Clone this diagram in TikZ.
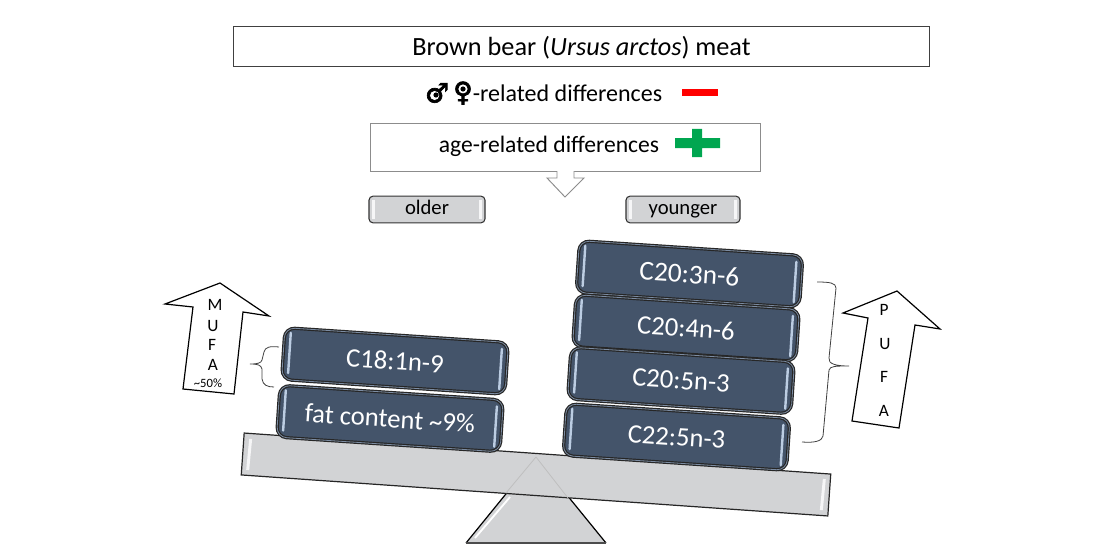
\documentclass[tikz,border=0pt]{standalone}
\usepackage{fontspec}
\usepackage{tikz}
\usetikzlibrary{calc}
\setmainfont{Carlito}
\newfontface\symbfont[FakeBold=2.5]{DejaVu Sans}
\definecolor{barblue}{HTML}{44546A}
\definecolor{barrim}{HTML}{7C8CA2}
\definecolor{beamgray}{HTML}{D2D3D5}
\definecolor{shinegray}{HTML}{F6F6F7}
\definecolor{shineblue}{HTML}{BCCDE2}
\definecolor{plusgreen}{HTML}{00A650}
\tikzset{
  bar/.style={draw=black!85, line width=.9pt, double=barrim, double distance=.6pt, fill=barblue, rounded corners=7.5pt,
    minimum width=168pt, minimum height=39pt, inner sep=0pt, text=white,
    font=\fontsize{20}{24}\selectfont, rotate=-3.8},
  tag/.style={draw=black!80, line width=.8pt, fill=beamgray, rounded corners=3pt,
    minimum height=20pt, inner sep=0pt, text height=8.2pt, text depth=0pt, font=\fontsize{15.5}{18}\selectfont},
  letter/.style={inner sep=0pt, font=\fontsize{13}{15}\selectfont},
  bigarrow/.style={draw=black, line width=.9pt, fill=white, line join=miter},
  shine/.style={draw=shineblue, line width=1.8pt, line cap=round},
  curly/.style={draw=black!75, line width=.6pt}
}
\begin{document}
\begin{tikzpicture}[x=.75pt, y=-.75pt]
\useasboundingbox (0,0) rectangle (1100,560);

% header
\node (title) [draw=black!75, line width=.7pt, minimum width=522.5pt, minimum height=30.5pt, inner sep=0pt,
  text height=14pt, text depth=0pt, font=\fontsize{19.7}{22}\selectfont] at (581.5,46.5) {Brown bear (\textit{Ursus arctos}) meat};
\node (sexline) [inner sep=0pt, font=\fontsize{18}{20}\selectfont] at (567.5,93) {-related differences};
\node (male) [inner sep=0pt, font=\symbfont\fontsize{20}{20}\selectfont] at (437,93) {♂};
\node (female) [inner sep=0pt, font=\symbfont\fontsize{20}{20}\selectfont] at (463,93) {♀};
\fill (436,95) circle (2.6) (463,89) circle (2.6);
\fill[red] (682,89) rectangle (718,96);

\node (agebox) [draw=black!45, line width=.7pt, minimum width=293pt, minimum height=36pt, inner sep=0pt] at (565.5,147) {};
\node (ageline) [inner sep=0pt, font=\fontsize{17.7}{20}\selectfont] at (549,146) {age-related differences};
\fill[plusgreen] (675,138) rectangle (720,148) (692,129) rectangle (702,157);
\draw[draw=black!45, line width=.7pt, fill=white] (557,171) -- (557,178) -- (547,178) -- (565,197)
  -- (584,178) -- (574,178) -- (574,171);

% tags
\node (older) [tag, minimum width=87pt] at (427,209.5) {older};
\node (younger) [tag, minimum width=85.5pt] at (683,209.5) {younger};
\foreach \n in {older,younger} {
  \draw[shinegray, line width=2pt] ($(\n.north west)+(5,4)$) -- ($(\n.south west)+(5,-4)$);
  \draw[shinegray, line width=2pt] ($(\n.north east)+(-5,4)$) -- ($(\n.south east)+(-5,-4)$);
}

% balance
\fill[beamgray] (536,457) -- (606,543) -- (466,543) -- cycle;
\draw[black, line width=.9pt] (536,457) -- (606,543);
\draw[black, line width=.9pt] (536,457) -- (466,543);
\draw[black!70, line width=1.6pt] (466,543) -- (606,543);
\draw[white, line width=1.4pt] (510,497) -- (475,538);
\node (beam) [draw=black!85, line width=.9pt, fill=beamgray, minimum width=441pt,
  minimum height=31.5pt, inner sep=0pt, rotate=-4] at (536,474.5) {};
\draw[black!25, line width=.6pt] (536,457) -- (506,493);
\draw[black!25, line width=.6pt] (536,457) -- (568,498);
\draw[shinegray, line width=2.2pt] ($(beam.north west)!.012!(beam.north east)+(0,6)$) -- ($(beam.south west)!.012!(beam.south east)+(0,-6)$);
\draw[shinegray, line width=2.2pt] ($(beam.north east)!.012!(beam.north west)+(0,6)$) -- ($(beam.south east)!.012!(beam.south west)+(0,-6)$);

% stacks
\node (oleic) [bar] at (395,361) {C18:1n-9};
\node (fat) [bar] at (390,418.5) {fat content \textasciitilde 9\%};
\node (dgla) [bar, font=\fontsize{20.5}{24}\selectfont] at (689.5,274) {C20:3n-6};
\node (ara) [bar] at (686,328) {C20:4n-6};
\node (epa) [bar] at (681,380.5) {C20:5n-3};
\node (dpa) [bar] at (676.5,437) {C22:5n-3};
\foreach \n in {oleic,fat,dgla,ara,epa,dpa} {
  \draw[shine] ($($(\n.north west)!.03!(\n.north east)$)!.1!($(\n.south west)!.03!(\n.south east)$)$)
    -- ($($(\n.north west)!.03!(\n.north east)$)!.86!($(\n.south west)!.03!(\n.south east)$)$);
  \draw[shine] ($($(\n.north east)!.03!(\n.north west)$)!.14!($(\n.south east)!.03!(\n.south west)$)$)
    -- ($($(\n.north east)!.03!(\n.north west)$)!.9!($(\n.south east)!.03!(\n.south west)$)$);
}

% arrows
\draw[bigarrow] (220,283) -- (269,316) -- (243,312) -- (234,394) -- (183,389) -- (193,307) -- (165,304) -- cycle;
\draw[bigarrow] (897,291) -- (940,329) -- (915,325) -- (899,428) -- (852,421) -- (868,318) -- (843,313) -- cycle;
\node (mufam) [letter] at (215,305) {M};
\node (mufau) [letter] at (213,326) {U};
\node (mufaf) [letter] at (212,345) {F};
\node (mufaa) [letter] at (213,365) {A};
\node (mufap) [inner sep=0pt, font=\fontsize{9.5}{10}\selectfont] at (208,383) {\textasciitilde 50\%};
\node (pufap) [letter] at (884,310) {P};
\node (pufau) [letter] at (885,344) {U};
\node (pufaf) [letter] at (884,377) {F};
\node (pufaa) [letter] at (884,411) {A};

% braces
\draw[curly] (279,347) .. controls (270,346) and (265,347) .. (264,352) -- (262,360)
  .. controls (261,363) and (258,364) .. (250,364) .. controls (258,364) and (261,365) .. (262,369)
  -- (262,379) .. controls (263,385) and (267,387) .. (274,387);
\draw[curly] (817,282) .. controls (830,282) and (836,283) .. (836,288) -- (829,358)
  .. controls (828,364) and (836,366) .. (849,366) .. controls (836,366) and (830,366) .. (829,370)
  -- (823,436) .. controls (822,441) and (815,443) .. (802,442);
\end{tikzpicture}
\end{document}
